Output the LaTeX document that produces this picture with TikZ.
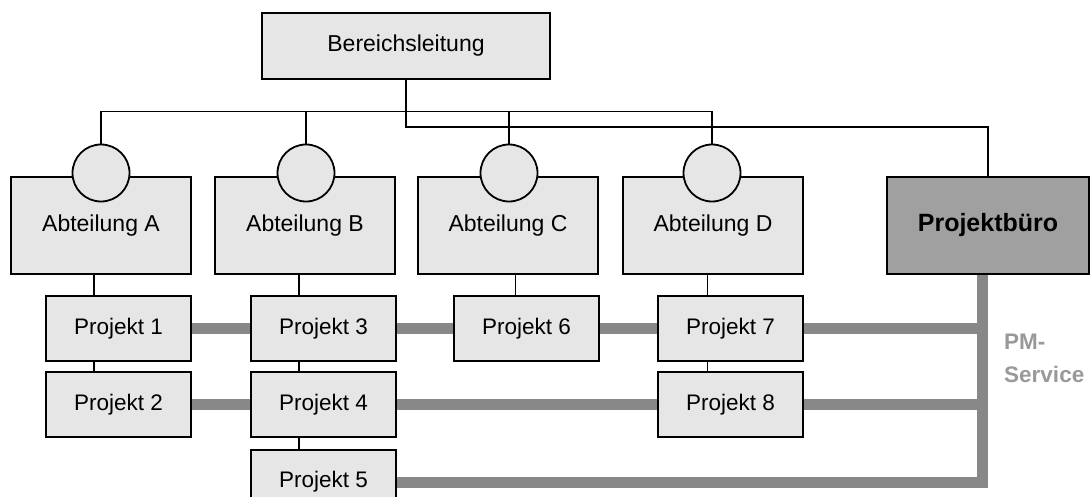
\documentclass[tikz,border=0pt]{standalone}
\usepackage{fontspec}
\setmainfont{Liberation Sans}
\definecolor{boxfill}{HTML}{E6E6E6}
\definecolor{pbfill}{HTML}{A0A0A0}
\definecolor{barcol}{HTML}{888888}
\definecolor{pmtext}{HTML}{999999}
\begin{document}
\begin{tikzpicture}[x=1pt,y=-1pt,
  box/.style={draw=black,line width=2pt,fill=boxfill,inner sep=0pt,font=\fontsize{23}{27}\selectfont},
  abt/.style={box,minimum width=180pt,minimum height=97pt},
  proj/.style={box,minimum width=145pt,minimum height=65pt,font=\fontsize{22.5}{27}\selectfont},
  thin/.style={draw=black,line width=1.8pt},
  bar/.style={draw=barcol,line width=11pt,line join=miter},
  knob/.style={circle,draw=black,line width=1.8pt,fill=boxfill,minimum size=57pt,inner sep=0pt}]
\useasboundingbox (0,0) rectangle (1091,497);
\clip (0,0) rectangle (1091,497);
% nodes
\node[box,minimum width=288pt,minimum height=66pt] (bl) at (406,46) {Bereichsleitung};
\node[abt] (aA) at (101,225.5) {Abteilung A};
\node[abt] (aB) at (305,225.5) {Abteilung B};
\node[abt] (aC) at (508,225.5) {Abteilung C};
\node[abt] (aD) at (713,225.5) {Abteilung D};
\node[box,fill=pbfill,minimum width=202pt,minimum height=97pt,font=\fontsize{25}{29}\selectfont\bfseries] (pb) at (988,225.5) {Projektbüro};
\node[knob] (kA) at (101,173) {};
\node[knob] (kB) at (306,173) {};
\node[knob] (kC) at (509,173) {};
\node[knob] (kD) at (712,173) {};
\node[proj] (p1) at (118.5,328.5) {Projekt 1};
\node[proj] (p2) at (118.5,404.5) {Projekt 2};
\node[proj] (p3) at (323.5,328.5) {Projekt 3};
\node[proj] (p4) at (323.5,404.5) {Projekt 4};
\node[proj] (p5) at (323.5,482) {Projekt 5};
\node[proj] (p6) at (526.5,328.5) {Projekt 6};
\node[proj] (p7) at (730.5,328.5) {Projekt 7};
\node[proj] (p8) at (730.5,404.5) {Projekt 8};
\node[text=pmtext,font=\fontsize{22.5}{32.5}\selectfont\bfseries,align=left,anchor=north west,inner sep=0pt] (pm) at (1004,334) {PM-\\Service};
% hierarchy lines
\coordinate (upper) at (0,111.5);
\coordinate (lower) at (0,127);
\draw[thin] (bl.south) -- (bl.south |- lower) -- (pb.north |- lower) -- (pb.north);
\draw[thin] (kA.north) -- (kA.north |- upper) -- (kD.north |- upper) -- (kD.north);
\draw[thin] (kB.north |- upper) -- (kB.north);
\draw[thin] (kC.north |- upper) -- (kC.north);
% department to project lines
\coordinate (xA) at (94,0);
\coordinate (xB) at (299,0);
\coordinate (xC) at (515.5,0);
\coordinate (xD) at (707.5,0);
\draw[thin] (aA.south -| xA) -- (p1.north -| xA);
\draw[thin] (p1.south -| xA) -- (p2.north -| xA);
\draw[thin] (aB.south -| xB) -- (p3.north -| xB);
\draw[thin] (p3.south -| xB) -- (p4.north -| xB);
\draw[thin] (p4.south -| xB) -- (p5.north -| xB);
\draw[thin] (aC.south -| xC) -- (p6.north -| xC);
\draw[thin] (aD.south -| xD) -- (p7.north -| xD);
\draw[thin] (p7.south -| xD) -- (p8.north -| xD);
% PM service bars
\coordinate (pmx) at (982.5,0);
\draw[bar] (p1.east) -- (p3.west);
\draw[bar] (p3.east) -- (p6.west);
\draw[bar] (p6.east) -- (p7.west);
\draw[bar] (p7.east) -- (p7.east -| pmx);
\draw[bar] (p2.east) -- (p4.west);
\draw[bar] (p4.east) -- (p8.west);
\draw[bar] (p8.east) -- (p8.east -| pmx);
\draw[bar] (pb.south -| pmx) -- (pmx |- p5.east) -- (p5.east);
\end{tikzpicture}
\end{document}
